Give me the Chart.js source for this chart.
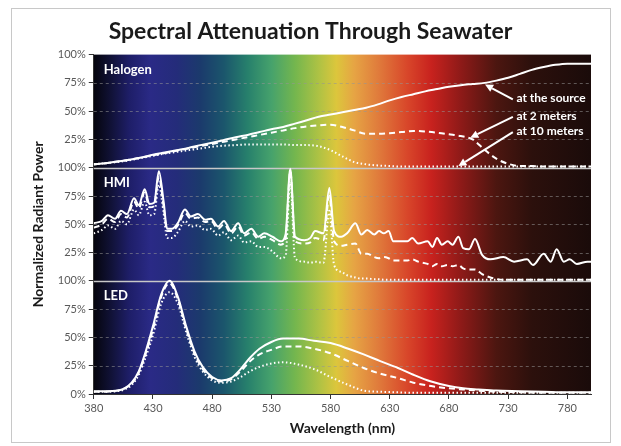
<!DOCTYPE html>
<html lang="en">
<head>
<meta charset="UTF-8">
<title>Spectral Attenuation Through Seawater</title>
<script src="https://cdn.jsdelivr.net/npm/chart.js"></script>
<style>
  html, body { margin: 0; padding: 0; background: #fff; }
  #wrap { position: relative; width: 621px; height: 446px; }
  #frame { position: absolute; left: 11px; top: 8px; width: 598px; height: 433px; border: 1px solid #c8c8c8; pointer-events: none; }
  canvas { position: absolute; left: 0; top: 0; }
</style>
</head>
<body>
<div id="wrap">
  <canvas id="spectrum" width="621" height="446"></canvas>
  <div id="frame"></div>
</div>
<script>
// tick values / labels
const xTicks = [380, 430, 480, 530, 580, 630, 680, 730, 780];
const yTicks = [0, 25, 50, 75, 100, 125, 150, 175, 200, 225, 250, 275, 300];
const yTickLabels = ['0%', '25%', '50%', '75%', '100%', '25%', '50%', '75%', '100%', '25%', '50%', '75%', '100%'];

const panelNames = ['Halogen', 'HMI', 'LED'];
const seriesNames = ['at the source', 'at 2 meters', 'at 10 meters'];

// Halogen (percent)
const halogenNm = [380, 390, 400, 410, 420, 430, 440, 450, 460, 470, 480, 490, 500, 510, 520, 530, 540, 550, 560, 570,
  580, 590, 600, 610, 620, 630, 640, 650, 660, 670, 680, 690, 700, 710, 720, 730, 740, 750, 760, 770, 780, 790, 800];
const halogenSource = [3, 4, 5.5, 7, 9, 11.5, 13.5, 15.5, 17.5, 20, 22, 24.5, 27, 29, 31.5, 34, 36, 39, 42, 45,
  47, 49, 51, 53, 56, 59.5, 62.5, 65, 67.5, 69.5, 71.5, 73, 74, 75, 77, 79.5, 83, 86.5, 89, 91, 92, 92, 92];
const halogen2m = [3, 4, 5.5, 7, 9, 11, 13, 15, 17, 19, 21, 23, 25, 27, 29, 31, 33, 35, 36.5, 37.5,
  38, 36, 33, 30, 30, 30.5, 31.5, 32.5, 32, 31, 29.5, 28, 25, 16, 8, 3.5, 1.5, 1.5, 1, 1, 1, 1, 1];
const halogen10m = [3, 4, 5, 6.5, 8.5, 10.5, 12.5, 14, 15.5, 17, 18.5, 19.5, 20, 20.5, 20.5, 20.5, 20.5, 20, 20, 19,
  15.5, 10, 5, 3, 2, 1.5, 1, 1, 1, 1, 1, 1, 1, 1, 1, 1, 1, 1, 1, 1, 1, 1, 1];

// HMI (percent)
const hmiNm = [380, 387, 392, 398, 403, 408, 414, 418, 423, 427, 431, 435, 439, 442, 446, 451, 457, 462, 468, 474,
  479, 485, 490, 496, 502, 507, 513, 519, 524, 531, 538, 542, 546, 550, 558, 563, 567, 574, 579, 583,
  589, 594, 601, 606, 611, 617, 621, 625, 629, 633, 645, 649, 654, 662, 666, 670, 674, 679, 683, 688,
  692, 697, 702, 708, 715, 726, 735, 746, 751, 760, 766, 771, 777, 782, 788, 797, 800];
const hmiSource = [51, 53, 58, 55, 62, 59, 73, 67, 81, 68, 69, 97, 70, 46, 46, 51, 63, 57, 59, 54,
  55, 48, 53, 44, 51, 42, 46, 39, 42, 39, 35, 41, 99, 39, 36, 38, 44, 42, 82, 44,
  39, 42, 51, 41, 45, 41, 44, 42, 44, 35, 35, 38, 33, 35, 30, 38, 32, 35, 32, 39,
  29, 28, 37, 23, 19, 21, 17, 19, 14, 24, 17, 28, 17, 19, 15, 17, 17];
const hmi2m = [47, 50, 55, 52, 59, 56, 70, 64, 78, 65, 66, 92, 66, 44, 44, 49, 60, 55, 56, 52,
  53, 46, 50, 42, 48, 40, 43, 37, 39, 36, 32, 37, 97, 35, 33, 34, 38, 36, 75, 35,
  31, 32, 33, 24, 24, 21, 20, 21, 20, 18, 18, 19, 17, 15, 13, 15, 13, 14, 13, 14,
  11, 10, 10, 6, 3, 1, 1, 1, 1, 1, 1, 1, 1, 1, 1, 1, 1];
const hmi10m = [42, 45, 49, 46, 53, 50, 63, 58, 70, 58, 59, 85, 60, 38, 38, 43, 53, 48, 49, 45,
  46, 40, 43, 36, 40, 34, 35, 30, 30, 26, 20, 22, 88, 20, 17, 16, 17, 16, 62, 14,
  8, 5, 3, 2, 2, 1.5, 1.5, 1, 1, 1, 1, 1, 1, 1, 1, 1, 1, 1, 1, 1,
  1, 1, 1, 1, 1, 1, 1, 1, 1, 1, 1, 1, 1, 1, 1, 1, 1];

// LED (percent)
const ledNm = [380, 390, 400, 406, 412, 418, 424, 430, 437, 444, 451, 458, 465, 472, 480, 488, 496, 504, 512, 520,
  530, 540, 553, 566, 580, 595, 608, 622, 637, 650, 665, 680, 692, 705, 720, 740, 760, 780, 800];
const ledSource = [2.5, 2.5, 3, 5, 10, 20, 38, 60, 88, 100, 86, 60, 38, 24, 15, 12, 14, 22, 32, 40,
  46, 49, 49, 47, 45, 40, 35, 29, 23, 17, 11, 7, 5, 4, 3, 2.5, 2, 1.5, 1.5];
const led2m = [2, 2, 3, 5, 9, 19, 36, 57, 86, 98, 84, 58, 36, 22, 14, 11, 13, 20, 29, 35,
  39, 42, 42, 40, 36, 29, 23, 18, 14, 10, 7, 5, 4, 3, 2, 1.5, 1, 1, 1];
const led10m = [2, 2, 2.5, 4, 8, 17, 33, 52, 80, 90, 80, 55, 33, 20, 12, 10, 11, 15, 20, 24,
  27, 28, 26, 22, 15, 8, 3, 2, 1.5, 1, 1, 1, 1, 1, 1, 1, 1, 1, 1];

const panels = [
  { nm: halogenNm, series: [halogenSource, halogen2m, halogen10m] },
  { nm: hmiNm, series: [hmiSource, hmi2m, hmi10m] },
  { nm: ledNm, series: [ledSource, led2m, led10m] }
];

const lineStyles = [
  { dash: [], width: 2 },
  { dash: [6, 4], width: 2 },
  { dash: [1.5, 2.5], width: 2 }
];

// each panel is stacked 100 units above the one below it
const datasets = [];
panels.forEach((p, i) => {
  const base = (2 - i) * 100;
  p.series.forEach((vals, j) => {
    datasets.push({
      label: panelNames[i] + ' ' + seriesNames[j],
      data: p.nm.map((nm, k) => ({ x: nm, y: vals[k] + base })),
      borderColor: '#ffffff',
      borderWidth: lineStyles[j].width,
      borderDash: lineStyles[j].dash,
      pointRadius: 0,
      cubicInterpolationMode: 'monotone',
      fill: false
    });
  });
});

const spectrumStops = [[380, '#05050d'], [395, '#111238'], [410, '#1e1e68'], [428, '#2a2a86'], [450, '#242c7a'],
  [470, '#1b3a6c'], [490, '#1b566c'], [510, '#27806c'], [530, '#46a26c'], [550, '#74b64e'], [570, '#aec244'],
  [585, '#dcc63c'], [600, '#e6a444'], [620, '#e07c3c'], [645, '#d8462a'], [665, '#c8221e'], [690, '#8e1a18'],
  [720, '#4c1610'], [750, '#2c100c'], [800, '#1a0b0a']];

const callouts = [
  { text: 'at the source', at: [737, 261.8], from: [734, 260.5], to: [710.5, 273.5] },
  { text: 'at 2 meters', at: [737, 245.5], from: [734, 245], to: [698, 226.5] },
  { text: 'at 10 meters', at: [737, 232], from: [734, 231.5], to: [688, 201.5] }
];

function arrow(ctx, x1, y1, x2, y2) {
  const a = Math.atan2(y2 - y1, x2 - x1), L = 8, W = 4;
  const bx = x2 - L * Math.cos(a), by = y2 - L * Math.sin(a);
  ctx.beginPath(); ctx.moveTo(x1, y1); ctx.lineTo(bx, by); ctx.stroke();
  ctx.beginPath(); ctx.moveTo(x2, y2);
  ctx.lineTo(bx + W * Math.sin(a), by - W * Math.cos(a));
  ctx.lineTo(bx - W * Math.sin(a), by + W * Math.cos(a));
  ctx.closePath(); ctx.fill();
}

const backdrop = {
  id: 'backdrop',
  beforeDraw(chart) {
    const { ctx, chartArea: a, scales: { x } } = chart;
    const g = ctx.createLinearGradient(a.left, 0, a.right, 0);
    spectrumStops.forEach(([nm, c]) => g.addColorStop((x.getPixelForValue(nm) - a.left) / (a.right - a.left), c));
    ctx.save();
    ctx.fillStyle = g;
    ctx.fillRect(a.left, a.top, a.right - a.left, a.bottom - a.top);
    ctx.restore();
  },
  beforeDatasetsDraw(chart) {
    const { ctx, chartArea: a, scales: { y } } = chart;
    ctx.save();
    yTicks.forEach(v => {
      if (v === 0 || v === 300) return;
      const py = Math.round(y.getPixelForValue(v)) + 0.5;
      const sep = v % 100 === 0;
      ctx.strokeStyle = sep ? '#c8c8c8' : 'rgba(150,150,150,0.55)';
      ctx.lineWidth = sep ? 1.5 : 1;
      ctx.setLineDash(sep ? [] : [3, 3]);
      ctx.beginPath(); ctx.moveTo(a.left, py); ctx.lineTo(a.right, py); ctx.stroke();
    });
    ctx.restore();
  },
  afterDatasetsDraw(chart) {
    const { ctx, chartArea: a, scales: { x, y } } = chart;
    ctx.save();
    ctx.fillStyle = '#fff';
    ctx.strokeStyle = '#fff';
    ctx.textBaseline = 'middle';
    ctx.font = 'bold 13px Lato';
    panelNames.forEach((name, i) => {
      ctx.fillText(name, a.left + 10, y.getPixelForValue((3 - i) * 100) + 15);
    });
    ctx.font = 'bold 12px Lato';
    ctx.lineWidth = 2;
    callouts.forEach(c => {
      ctx.fillText(c.text, x.getPixelForValue(c.at[0]), y.getPixelForValue(c.at[1]));
      arrow(ctx, x.getPixelForValue(c.from[0]), y.getPixelForValue(c.from[1]),
        x.getPixelForValue(c.to[0]), y.getPixelForValue(c.to[1]));
    });
    ctx.restore();
  }
};

const tickFont = { family: 'Lato', size: 11 };

new Chart(document.getElementById('spectrum'), {
  type: 'line',
  data: { datasets: datasets },
  plugins: [backdrop],
  options: {
    responsive: false,
    animation: false,
    layout: { padding: { left: 30, right: 30, top: 0, bottom: 9 } },
    plugins: {
      legend: { display: false },
      tooltip: { enabled: false },
      title: {
        display: true,
        text: 'Spectral Attenuation Through Seawater',
        color: '#1a1a1a',
        font: { family: 'Lato', size: 23, weight: 'bold' },
        padding: { top: 18, bottom: 9 }
      }
    },
    scales: {
      x: {
        type: 'linear',
        min: 380,
        max: 800,
        afterBuildTicks: s => { s.ticks = xTicks.map(v => ({ value: v })); },
        ticks: { color: '#595959', font: tickFont, padding: 3 },
        grid: { display: true, drawOnChartArea: false, drawTicks: true, tickLength: 5, color: '#333' },
        border: { color: '#333', width: 1 },
        title: {
          display: true,
          text: 'Wavelength (nm)',
          color: '#1a1a1a',
          font: { family: 'Lato', size: 14, weight: 'bold' },
          padding: { top: 2, bottom: 0 }
        }
      },
      y: {
        min: 0,
        max: 300,
        afterBuildTicks: s => { s.ticks = yTicks.map(v => ({ value: v })); },
        ticks: { color: '#595959', font: tickFont, padding: 3, callback: (v, i) => yTickLabels[i] },
        grid: { display: true, drawOnChartArea: false, drawTicks: true, tickLength: 5, color: '#333' },
        border: { color: '#333', width: 1 },
        title: {
          display: true,
          text: 'Normalized Radiant Power',
          color: '#1a1a1a',
          font: { family: 'Lato', size: 14, weight: 'bold' },
          padding: { top: 0, bottom: 8 }
        }
      }
    }
  }
});
</script>
</body>
</html>
